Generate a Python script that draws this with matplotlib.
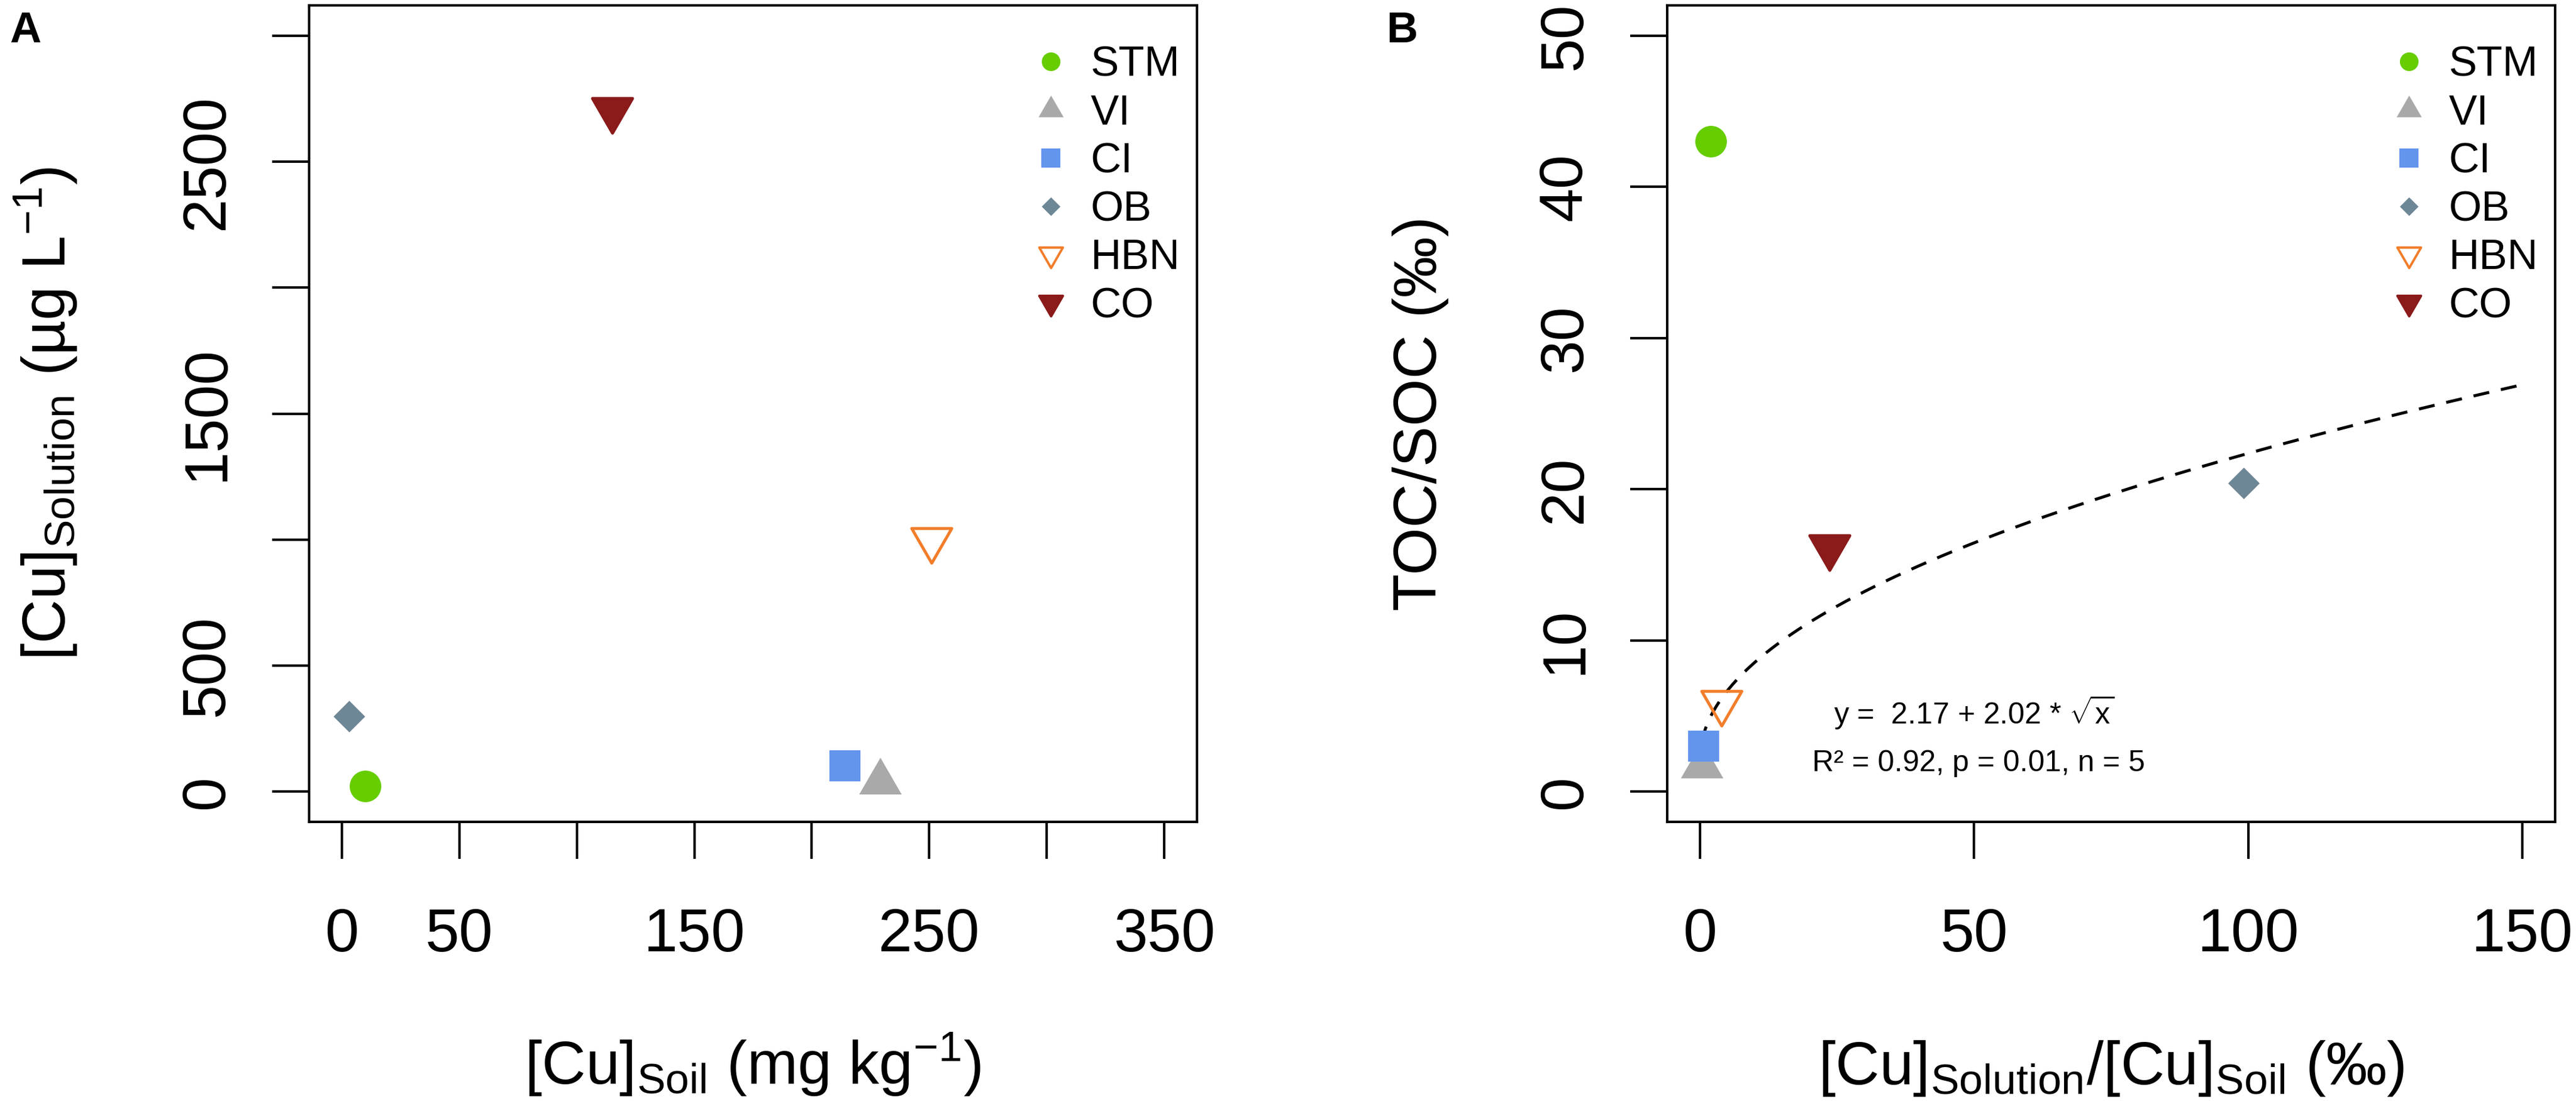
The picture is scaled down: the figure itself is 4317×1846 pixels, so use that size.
import numpy as np
import matplotlib
matplotlib.use('Agg')
import matplotlib.pyplot as plt
from matplotlib.markers import MarkerStyle
from matplotlib.lines import Line2D
from matplotlib.path import Path

# ---------------- data ----------------
sites = ['STM', 'VI', 'CI', 'OB', 'HBN', 'CO']
cu_soil = [10, 229, 214, 3, 251, 115]            # mg kg-1
cu_solution = [22, 38, 102, 298, 1000, 2707]     # ug L-1
cu_ratio = [1.9, 0.3, 0.6, 99.2, 3.9, 23.6]      # permil
toc_soc = [43.0, 1.7, 3.0, 20.4, 5.9, 16.2]      # permil

fit_a, fit_b = 2.17, 2.02
fit_x_range = [0.3, 150]
fit_text1 = 'y =  2.17 + 2.02 * $\\sqrt{\\mathrm{x}}$'
fit_text2 = 'R² = 0.92, p = 0.01, n = 5'

colors = ['#66CD00', '#A9A9A9', '#6495ED', '#6E8796', '#F27D2A', '#8B1A1A']

a_xticks = [0, 50, 100, 150, 200, 250, 300, 350]
a_xticklabels = ['0', '50', '', '150', '', '250', '', '350']
a_yticks = [0, 500, 1000, 1500, 2000, 2500, 3000]
a_yticklabels = ['0', '500', '', '1500', '', '2500', '']
b_xticks = [0, 50, 100, 150]
b_yticks = [0, 10, 20, 30, 40, 50]

# ---------------- style ----------------
plt.rcParams['font.family'] = ['Liberation Sans', 'DejaVu Sans']
plt.rcParams['mathtext.fontset'] = 'custom'
plt.rcParams['mathtext.rm'] = 'Liberation Sans'
plt.rcParams['mathtext.it'] = 'Liberation Sans:italic'
plt.rcParams['mathtext.bf'] = 'Liberation Sans:bold'

W, H, DPI = 4317, 1846, 300
fig = plt.figure(figsize=(W / DPI, H / DPI), dpi=DPI)

def px_axes(l, r, t, b):
    return [l / W, 1 - b / H, (r - l) / W, (b - t) / H]

axA = fig.add_axes(px_axes(518, 2006, 9, 1378))
axB = fig.add_axes(px_axes(2794, 4282, 9, 1378))

# marker shapes (R-like equilateral triangles, diamond)
TRC0, TRC1, TRC2 = 1.5551, 1.3468, 0.7776
tri_up = Path([(0, TRC0), (TRC1, -TRC2), (-TRC1, -TRC2), (0, 0)], closed=True)
tri_dn = Path([(0, -TRC0), (TRC1, TRC2), (-TRC1, TRC2), (0, 0)], closed=True)
diamond = Path([(0, 1), (1, 0), (0, -1), (-1, 0), (0, 0)], closed=True)

mk = [MarkerStyle('o'), MarkerStyle(tri_up), MarkerStyle('s'),
      MarkerStyle(diamond), MarkerStyle(tri_dn, joinstyle='round'),
      MarkerStyle(tri_dn, joinstyle='round')]
ms_plot = [12.7, 19.7, 12.7, 12.7, 18.6, 18.6]
face = [colors[0], colors[1], colors[2], colors[3], 'none', colors[5]]
mew = [0, 0, 0, 0, 1.2, 1.2]
legend_scale = 0.59

def draw_points(ax, xs, ys):
    for i in range(len(sites)):
        ax.plot([xs[i]], [ys[i]], linestyle='none', marker=mk[i],
                markersize=ms_plot[i], markerfacecolor=face[i],
                markeredgecolor=colors[i], markeredgewidth=mew[i],
                zorder=3, clip_on=False)

def add_legend(ax):
    handles = [Line2D([], [], linestyle='none', marker=mk[i],
                      markersize=ms_plot[i] * legend_scale,
                      markerfacecolor=face[i], markeredgecolor=colors[i],
                      markeredgewidth=mew[i] * 0.8) for i in range(len(sites))]
    ax.legend(handles, sites, loc='upper left', bbox_to_anchor=(0.8115, 0.9505),
              frameon=False, fontsize=17, handlelength=1.0, handletextpad=0.44,
              labelspacing=0.21, borderpad=0, borderaxespad=0)

def style_axes(ax):
    for s in ax.spines.values():
        s.set_linewidth(1.0)
    ax.tick_params(axis='both', direction='out', length=14.9, width=1.0,
                   labelsize=24.5)
    ax.tick_params(axis='x', pad=19.5)
    ax.tick_params(axis='y', pad=14.6)

# ---------------- panel A ----------------
draw_points(axA, cu_soil, cu_solution)
axA.set_xlim(-14, 364)
axA.set_ylim(-120, 3120)
axA.set_xticks(a_xticks, a_xticklabels)
axA.set_yticks(a_yticks, a_yticklabels, rotation=90, va='center')
style_axes(axA)
axA.set_xlabel(r'$\mathrm{[Cu]_{Soil}\ (mg\ kg^{-1})}$', fontsize=24.5, va='baseline')
axA.xaxis.set_label_coords(0.5, -0.3214)
axA.set_ylabel(r'$\mathrm{[Cu]_{Solution}\ (µg\ L^{-1})}$', fontsize=24.5, va='baseline')
axA.yaxis.set_label_coords(-0.2742, 0.5)
add_legend(axA)

# ---------------- panel B ----------------
fx = np.linspace(fit_x_range[0], fit_x_range[1], 400)
axB.plot(fx, fit_a + fit_b * np.sqrt(fx), color='black', linewidth=1.2,
         linestyle=(0, (5.4, 4.0)), zorder=2)
draw_points(axB, cu_ratio, toc_soc)
axB.set_xlim(-6, 156)
axB.set_ylim(-2, 52)
axB.set_xticks(b_xticks, [str(v) for v in b_xticks])
axB.set_yticks(b_yticks, [str(v) for v in b_yticks], rotation=90, va='center')
style_axes(axB)
axB.set_xlabel(r'$\mathrm{[Cu]_{Solution}/[Cu]_{Soil}\ (‰)}$', fontsize=24.5, va='baseline')
axB.xaxis.set_label_coords(0.5, -0.3214)
axB.set_ylabel('TOC/SOC (‰)', fontsize=24.5, va='baseline')
axB.yaxis.set_label_coords(-0.2601, 0.5)
axB.text(50.0, 4.49, fit_text1, fontsize=12, ha='center', va='baseline')
axB.text(50.8, 1.34, fit_text2, fontsize=12, ha='center', va='baseline')
add_legend(axB)

# panel letters
fig.text(16 / W, 1 - 71 / H, 'A', fontsize=17.5, fontweight='bold', ha='left', va='baseline')
fig.text(2323 / W, 1 - 71 / H, 'B', fontsize=17.5, fontweight='bold', ha='left', va='baseline')

fig.savefig('out.png', dpi=DPI)
